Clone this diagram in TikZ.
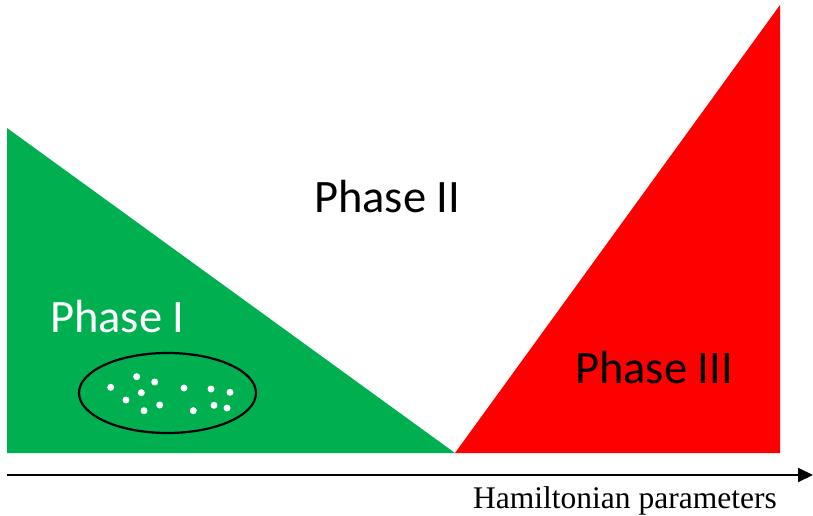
\documentclass[tikz,border=0pt]{standalone}
\usepackage{fontspec}
\setmainfont{Carlito}
\newfontfamily\timesfont{Liberation Serif}
\usetikzlibrary{arrows.meta,shapes.geometric}
\definecolor{phgreen}{HTML}{00B050}
\definecolor{phred}{HTML}{FF0000}
\tikzset{
  phaselabel/.style={font=\fontsize{46.5}{46.5}\selectfont, inner sep=0pt, anchor=base west},
  dotw/.style={fill=white, draw=none},
}
\begin{document}
\begin{tikzpicture}[x=1pt,y=-1pt]
\useasboundingbox (0,0) rectangle (813,516);
\fill[phgreen] (7,128) -- (7,453) -- (455,453) -- cycle;
\fill[phred] (455,453) -- (780,453) -- (780,5) -- cycle;
\node[draw=black, line width=2.2pt, ellipse, minimum width=177pt, minimum height=80pt, inner sep=0pt] (cl) at (167.5,393) {};
\foreach \x/\y in {110.7/387.3,136.7/376.7,154.7/382,141.3/392.7,126/400,144/410.7,159.7/405,184/388,211/389,230/392.3,193.3/410.7,214/405.3,227/408}
  \fill[dotw] (\x,\y) circle (3.5pt);
\node[phaselabel, text=white] (p1) at (50,332) {Phase I};
\node[phaselabel] (p2) at (314,212) {Phase II};
\node[phaselabel] (p3) at (575,383) {Phase III};
\coordinate (a0) at (7,475);
\coordinate (a1) at (813,475);
\draw[line width=2pt, -{Triangle[length=15pt,width=14pt]}] (a0) -- (a1);
\node[font=\timesfont\fontsize{31.5}{31.5}\selectfont, inner sep=0pt, anchor=base west] (hp) at (473,508) {Hamiltonian parameters};
\end{tikzpicture}
\end{document}
